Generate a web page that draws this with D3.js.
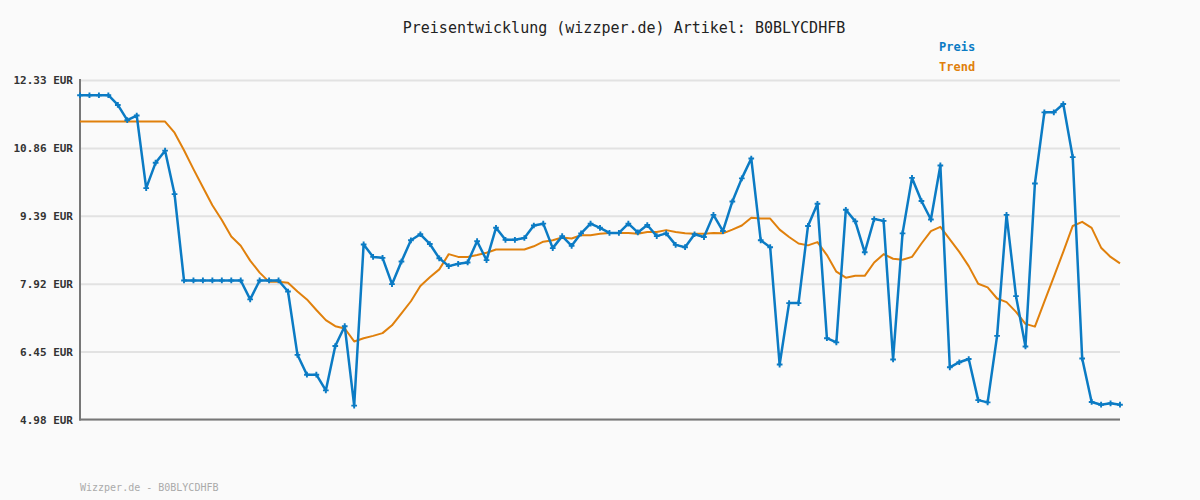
<!DOCTYPE html>
<html>
<head>
<meta charset="utf-8">
<script src="https://cdn.jsdelivr.net/npm/d3@7"></script>
<style>
  html, body { margin: 0; padding: 0; background: #fafafa; }
  svg { display: block; }
</style>
</head>
<body>
<svg id="chart" width="1200" height="500"></svg>
<script>
const titleText = "Preisentwicklung (wizzper.de) Artikel: B0BLYCDHFB";
const footerText = "Wizzper.de - B0BLYCDHFB";
const seriesNames = ["Preis", "Trend"];
const yTicks = [4.98, 6.45, 7.92, 9.39, 10.86, 12.33];
const yTickLabels = ["4.98 EUR", "6.45 EUR", "7.92 EUR", "9.39 EUR", "10.86 EUR", "12.33 EUR"];

const preis = [
  12.00, 12.00, 12.00, 12.00, 11.79, 11.46, 11.56, 9.99, 10.54, 10.80,
  9.86, 7.99, 7.99, 7.99, 7.99, 7.99, 7.99, 7.99, 7.58, 7.99,
  7.99, 7.99, 7.75, 6.38, 5.95, 5.95, 5.61, 6.57, 7.00, 5.28,
  8.77, 8.50, 8.48, 7.91, 8.40, 8.86, 8.99, 8.78, 8.47, 8.30,
  8.35, 8.38, 8.84, 8.43, 9.13, 8.87, 8.87, 8.91, 9.18, 9.22,
  8.69, 8.95, 8.74, 9.01, 9.22, 9.13, 9.02, 9.02, 9.22, 9.03,
  9.19, 8.95, 9.01, 8.76, 8.71, 8.99, 8.93, 9.41, 9.06, 9.70,
  10.20, 10.63, 8.86, 8.71, 6.17, 7.50, 7.50, 9.17, 9.65, 6.74,
  6.65, 9.52, 9.27, 8.60, 9.32, 9.28, 6.28, 9.01, 10.21, 9.71,
  9.31, 10.48, 6.11, 6.22, 6.29, 5.40, 5.35, 6.79, 9.41, 7.65,
  6.56, 10.09, 11.63, 11.63, 11.81, 10.66, 6.30, 5.36, 5.30, 5.33,
  5.30
];

const trend = [
  11.43, 11.43, 11.43, 11.43, 11.43, 11.43, 11.43, 11.43, 11.43, 11.43,
  11.19, 10.81, 10.40, 10.01, 9.62, 9.30, 8.94, 8.74, 8.42, 8.16,
  7.96, 7.96, 7.94, 7.75, 7.58, 7.35, 7.13, 7.00, 6.95, 6.67,
  6.74, 6.79, 6.85, 7.02, 7.28, 7.54, 7.87, 8.06, 8.23, 8.56,
  8.50, 8.50, 8.54, 8.59, 8.66, 8.66, 8.66, 8.66, 8.73, 8.83,
  8.86, 8.92, 8.90, 8.97, 8.97, 9.00, 9.02, 9.02, 9.02, 9.00,
  9.04, 9.04, 9.08, 9.04, 9.01, 9.00, 9.00, 9.02, 9.01, 9.09,
  9.18, 9.35, 9.33, 9.33, 9.09, 8.93, 8.79, 8.75, 8.82, 8.54,
  8.18, 8.05, 8.09, 8.09, 8.38, 8.56, 8.46, 8.44, 8.50, 8.79,
  9.06, 9.15, 8.88, 8.61, 8.30, 7.92, 7.84, 7.60, 7.52, 7.31,
  7.05, 6.99, 7.53, 8.07, 8.61, 9.17, 9.26, 9.13, 8.70, 8.50,
  8.36
];

const blue = "#0b7bc4";
const orange = "#e0800c";
const mono = "'DejaVu Sans Mono', 'Liberation Mono', monospace";

const svg = d3.select("#chart");
const mLeft = 80, mRight = 1120, mTop = 80, mBottom = 419.5;

const x = d3.scaleLinear().domain([0, preis.length - 1]).range([mLeft, mRight]);
const y = d3.scaleLinear().domain([4.98, 12.33]).range([mBottom, mTop]);

svg.append("rect").attr("width", 1200).attr("height", 500).attr("fill", "#fafafa");

// grid lines
const grid = d3.axisLeft(y).tickValues(yTicks).tickSize(-(mRight - mLeft)).tickFormat("");
svg.append("g")
  .attr("transform", `translate(${mLeft},0)`)
  .call(grid)
  .call(g => g.select(".domain").remove())
  .call(g => g.selectAll("line").attr("stroke", "#e2e2e2").attr("stroke-width", 2));

// y labels
const yAxis = d3.axisLeft(y).tickValues(yTicks).tickSize(0).tickPadding(7)
  .tickFormat((d, i) => yTickLabels[i]);
svg.append("g")
  .attr("transform", `translate(${mLeft},0)`)
  .call(yAxis)
  .call(g => g.select(".domain").remove())
  .call(g => g.selectAll("text")
    .attr("font-family", mono).attr("font-size", 11).attr("font-weight", "bold")
    .attr("fill", "#333"));

// axis lines
svg.append("line").attr("x1", mLeft).attr("x2", mLeft).attr("y1", mTop - 1).attr("y2", mBottom + 1)
  .attr("stroke", "#777").attr("stroke-width", 2);
svg.append("line").attr("x1", mLeft - 1).attr("x2", mRight).attr("y1", mBottom).attr("y2", mBottom)
  .attr("stroke", "#777").attr("stroke-width", 2);

const line = d3.line().x((d, i) => x(i)).y(d => y(d));

svg.append("path").datum(trend).attr("d", line)
  .attr("fill", "none").attr("stroke", orange).attr("stroke-width", 2).attr("stroke-linejoin", "round");

svg.append("path").datum(preis).attr("d", line)
  .attr("fill", "none").attr("stroke", blue).attr("stroke-width", 2.5).attr("stroke-linejoin", "round");

const sym = d3.symbol().type(d3.symbolCross).size(18);
svg.append("g").selectAll("path").data(preis).join("path")
  .attr("transform", (d, i) => `translate(${x(i)},${y(d)})`)
  .attr("d", sym).attr("fill", blue);

// title
svg.append("text").attr("x", 624).attr("y", 33).attr("text-anchor", "middle")
  .attr("font-family", mono).attr("font-size", 15).attr("fill", "#222").text(titleText);

// legend
const colors = [blue, orange];
seriesNames.forEach((n, i) => {
  svg.append("text").attr("x", 939).attr("y", 51 + i * 20)
    .attr("font-family", mono).attr("font-size", 12).attr("font-weight", "bold")
    .attr("fill", colors[i]).text(n);
});

// footer
svg.append("text").attr("x", 80).attr("y", 491)
  .attr("font-family", mono).attr("font-size", 10).attr("fill", "#aaa").text(footerText);
</script>
</body>
</html>
